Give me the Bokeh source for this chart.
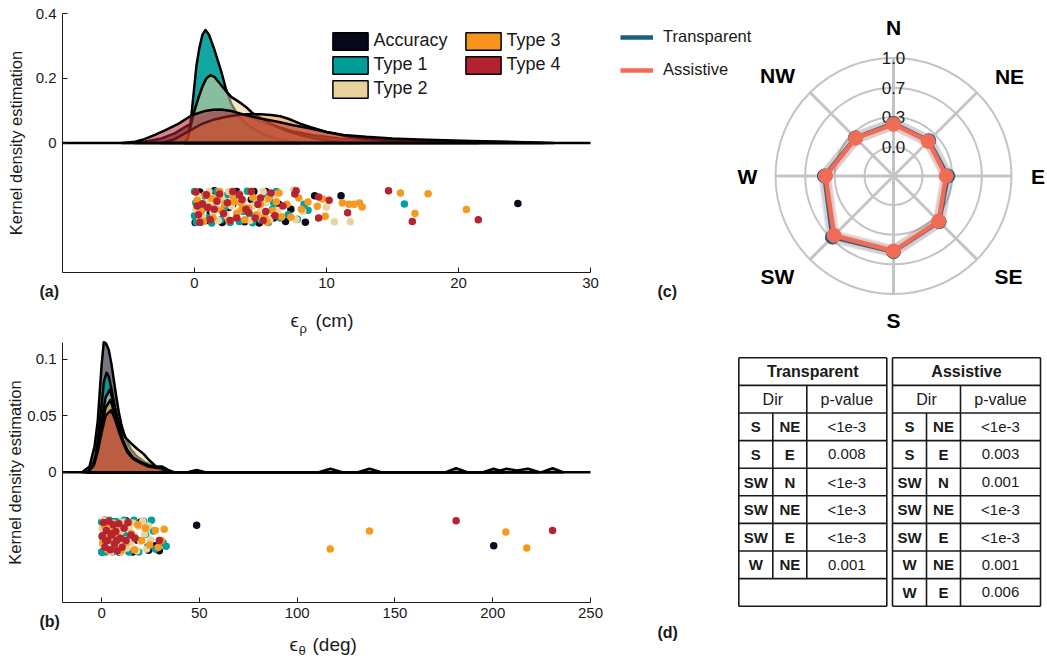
import math
from bokeh.plotting import figure
from bokeh.layouts import row, column
from bokeh.models import Range1d, Label, Legend, LegendItem, FixedTicker
from bokeh.embed import file_html
from bokeh.resources import INLINE
from bokeh.core.properties import value

FONT = "Liberation Sans"
TXT = "#1a1a1a"
NAN = float("nan")

# ------------------------------------------------------------------ data
groups = ["Accuracy", "Type 1", "Type 2", "Type 3", "Type 4"]
colors = ["#07071a", "#009e99", "#e8d19d", "#f7941e", "#b3222f"]
point_colors = ["#0c0c1c", "#00a19a", "#e9d3a1", "#f6991f", "#b52430"]
fill_alphas = [0.55, 0.92, 0.55, 0.55, 0.55]

# panel (a): position error (cm)
a_xlim = (-10, 30)
a_ylim = (-0.4, 0.4)
a_xticks = [0, 10, 20, 30]
a_xlabels = ["0", "10", "20", "30"]
a_yticks = [0, 0.2, 0.4]
a_ylabels = ["0", "0.2", "0.4"]

kde_a_x_acc = [-4.5, -3.5, -2.5, -1.5, -0.7, 0, 0.8, 1.6, 2.3, 3.0, 3.8, 4.6, 5.5, 6.5, 7.5, 9, 11, 13, 16, 20, 24, 26.5]
kde_a_y_acc = [0, 0.006, 0.014, 0.03, 0.05, 0.066, 0.082, 0.092, 0.097, 0.094, 0.085, 0.073, 0.06, 0.047, 0.036, 0.024, 0.014, 0.009, 0.006, 0.004, 0.002, 0]
kde_a_x_t1 = [-0.7, -0.45, -0.25, -0.05, 0.15, 0.35, 0.6, 0.83, 1.1, 1.5, 2.0, 2.4, 2.8, 3.3, 3.9, 4.6, 5.5, 6.5, 8.0]
kde_a_y_t1 = [0, 0.02, 0.08, 0.16, 0.24, 0.29, 0.335, 0.35, 0.335, 0.29, 0.225, 0.165, 0.12, 0.085, 0.06, 0.04, 0.022, 0.01, 0]
kde_a_x_t2 = [-0.8, -0.5, -0.25, 0, 0.3, 0.6, 0.9, 1.2, 1.5, 1.9, 2.4, 2.8, 3.2, 3.55, 4.0, 4.3, 5.0, 6.0, 7.0, 8.0, 9.0, 10.5, 12.5]
kde_a_y_t2 = [0, 0.015, 0.06, 0.1, 0.14, 0.175, 0.2, 0.21, 0.205, 0.185, 0.16, 0.142, 0.132, 0.122, 0.108, 0.096, 0.077, 0.055, 0.038, 0.025, 0.015, 0.006, 0]
kde_a_x_t3 = [-2.5, -1.5, -0.5, 0.5, 1.5, 2.5, 3.3, 4.0, 5.0, 5.8, 6.5, 7.1, 8.0, 8.8, 10, 11.5, 13, 15, 17, 19, 21.5]
kde_a_y_t3 = [0, 0.012, 0.035, 0.058, 0.073, 0.082, 0.087, 0.089, 0.089, 0.087, 0.083, 0.075, 0.06, 0.049, 0.034, 0.021, 0.013, 0.008, 0.006, 0.003, 0]
kde_a_x_t4 = [-5.5, -4.5, -3.8, -3, -2.2, -1.2, -0.2, 0.7, 1.4, 2.0, 2.8, 3.8, 5.0, 6.3, 7.5, 8.8, 10, 11.3, 13, 15, 17, 19, 21, 23, 25, 27.2]
kde_a_y_t4 = [0, 0.004, 0.012, 0.025, 0.04, 0.06, 0.086, 0.098, 0.103, 0.104, 0.099, 0.087, 0.076, 0.066, 0.055, 0.045, 0.034, 0.025, 0.019, 0.014, 0.011, 0.0085, 0.0065, 0.0045, 0.0025, 0]

pts_a_x_acc = [0.05, 0.4, 0.9, 1.5, 2.1, 2.6, 3.2, 3.8, 4.3, 4.9, 5.4, 6.0, 6.4, 0.2, 1.2, 2.9, 4.5, 5.8, 6.9, 8.4, 9.1, 11.1, 24.5, 7.3]
pts_a_y_acc = [-0.246, -0.152, -0.240, -0.148, -0.246, -0.200, -0.150, -0.244, -0.175, -0.248, -0.150, -0.232, -0.190, -0.198, -0.215, -0.190, -0.150, -0.160, -0.243, -0.245, -0.163, -0.163, -0.187, -0.205]
pts_a_x_t1 = [0.0, 0.1, 0.0, 0.15, 0.5, 0.8, 1.0, 1.3, 1.7, 2.0, 2.3, 2.7, 3.0, 3.4, 3.7, 4.0, 4.4, 4.7, 5.0, 5.3, 5.6, 5.9, 6.2, 6.5, 0.6, 2.5, 4.2, 6.0, 7.1, 7.8, 8.3, 8.6, 15.9]
pts_a_y_t1 = [-0.150, -0.185, -0.225, -0.245, -0.245, -0.165, -0.232, -0.248, -0.150, -0.238, -0.198, -0.246, -0.168, -0.243, -0.212, -0.149, -0.247, -0.190, -0.238, -0.158, -0.246, -0.205, -0.150, -0.232, -0.205, -0.160, -0.222, -0.185, -0.222, -0.236, -0.190, -0.208, -0.189]
pts_a_x_t2 = [0.1, 0.3, 0.6, 0.9, 1.1, 1.4, 1.8, 2.1, 2.4, 2.8, 3.1, 3.5, 3.9, 4.2, 4.6, 5.0, 5.4, 5.7, 6.1, 0.4, 1.6, 2.6, 3.3, 4.4, 5.2, 6.3, 1.0, 2.0, 3.7, 4.8, 7.5, 7.7, 8.2, 10.0, 10.6, 11.8]
pts_a_y_t2 = [-0.205, -0.165, -0.228, -0.185, -0.150, -0.215, -0.240, -0.175, -0.222, -0.195, -0.232, -0.158, -0.200, -0.240, -0.172, -0.210, -0.185, -0.238, -0.160, -0.240, -0.190, -0.150, -0.212, -0.195, -0.150, -0.208, -0.200, -0.162, -0.180, -0.230, -0.145, -0.238, -0.212, -0.198, -0.244, -0.244]
pts_a_x_t3 = [0.2, 0.5, 0.8, 1.1, 1.4, 1.7, 2.0, 2.3, 2.6, 2.9, 3.2, 3.5, 3.8, 4.1, 4.4, 4.7, 5.0, 5.3, 5.6, 5.9, 6.2, 6.6, 0.7, 1.9, 3.0, 4.3, 5.5, 1.3, 3.6, 6.4,
              7.0, 7.3, 7.9, 8.1, 8.6, 9.3, 9.7, 9.9, 11.2, 11.7, 12.1, 12.5, 12.7, 15.6, 17.7, 16.7, 20.6]
pts_a_y_t3 = [-0.178, -0.212, -0.160, -0.198, -0.232, -0.172, -0.208, -0.188, -0.240, -0.165, -0.218, -0.185, -0.238, -0.202, -0.168, -0.222, -0.190, -0.230, -0.172, -0.210, -0.182, -0.228, -0.242, -0.150, -0.182, -0.150, -0.245, -0.172, -0.205, -0.155,
              -0.190, -0.230, -0.170, -0.205, -0.183, -0.196, -0.173, -0.227, -0.186, -0.190, -0.190, -0.186, -0.198, -0.155, -0.157, -0.218, -0.206]
pts_a_x_t4 = [0.1, 0.3, 0.6, 0.9, 1.2, 1.5, 1.9, 2.2, 2.5, 2.9, 3.2, 3.6, 3.9, 4.3, 4.6, 5.0, 5.4, 5.8, 0.4, 1.0, 2.7, 3.4, 4.8, 0.2, 1.7, 4.1, 5.2, 6.1,
              6.7, 7.6, 7.7, 9.4, 10.2, 9.4, 11.6, 14.7, 16.5, 21.5]
pts_a_y_t4 = [-0.152, -0.222, -0.188, -0.160, -0.238, -0.205, -0.158, -0.218, -0.185, -0.150, -0.232, -0.175, -0.205, -0.150, -0.232, -0.170, -0.212, -0.155, -0.245, -0.200, -0.240, -0.160, -0.190, -0.195, -0.180, -0.215, -0.240, -0.225,
              -0.195, -0.158, -0.148, -0.167, -0.177, -0.232, -0.216, -0.148, -0.243, -0.238]

# panel (b): orientation error (deg)
b_xlim = (-20, 250)
b_ylim = (-0.115, 0.115)
b_xticks = [0, 50, 100, 150, 200, 250]
b_xlabels = ["0", "50", "100", "150", "200", "250"]
b_yticks = [0, 0.05, 0.1]
b_ylabels = ["0", "0.05", "0.1"]

kde_b_x_acc = [-10, -6.2, -3.6, -2, -1.1, 0, 1.1, 2.2, 3.7, 5, 6.2, 7.5, 8.8, 10, 11.3, 13, 15, 18, 22, 26, 30, 35, 44, 48.6, 53, 195, 200.5, 206]
kde_b_y_acc = [0, 0.005, 0.023, 0.045, 0.067, 0.095, 0.115, 0.114, 0.108, 0.096, 0.082, 0.067, 0.053, 0.043, 0.035, 0.027, 0.02, 0.014, 0.009, 0.006, 0.003, 0, 0, 0.002, 0, 0, 0.003, 0]
kde_b_x_t1 = [-8, -5, -3, -1.5, 0, 1.2, 2.5, 3.6, 5, 6.5, 8, 9.5, 11, 13, 15, 18, 21, 24, 27, 30, 33, 36]
kde_b_y_t1 = [0, 0.004, 0.015, 0.035, 0.06, 0.08, 0.088, 0.085, 0.074, 0.06, 0.047, 0.036, 0.028, 0.02, 0.015, 0.01, 0.007, 0.005, 0.004, 0.003, 0.001, 0]
kde_b_x_t2 = [-7, -4, -2, 0, 2, 4.2, 6, 8, 10, 12, 14.8, 18, 21.6, 24.1, 26, 28.4, 31, 33]
kde_b_y_t2 = [0, 0.006, 0.02, 0.045, 0.066, 0.073, 0.062, 0.048, 0.038, 0.031, 0.026, 0.021, 0.016, 0.011, 0.008, 0.004, 0.001, 0]
kde_b_x_t3 = [-7, -4, -2, 0, 2, 4.5, 7, 9, 11, 13, 16, 20, 24, 28, 31, 34, 37, 111, 117, 123, 131, 137, 143, 201, 207, 212.5, 218, 224]
kde_b_y_t3 = [0, 0.007, 0.02, 0.04, 0.057, 0.064, 0.05, 0.038, 0.028, 0.02, 0.013, 0.009, 0.006, 0.005, 0.005, 0.002, 0, 0, 0.003, 0, 0, 0.003, 0, 0, 0.003, 0.0015, 0.003, 0]
kde_b_x_t4 = [-7, -4, -2, 0, 2, 4.9, 7, 9, 11, 13, 16, 20, 24, 28, 30, 33, 36, 176, 181.3, 187, 225, 230.6, 236]
kde_b_y_t4 = [0, 0.006, 0.018, 0.035, 0.05, 0.055, 0.046, 0.035, 0.026, 0.018, 0.012, 0.008, 0.005, 0.004, 0.004, 0.001, 0, 0, 0.0035, 0, 0, 0.0035, 0]

pts_b_x_acc = [0.2, 1.5, 3.5, 6.0, 9.0, 12.5, 16.0, 20.0, 24.0, 27.0, 29.5, 0.8, 10.5, 18.0, 48.6, 200.5]
pts_b_y_acc = [-0.0705, -0.0425, -0.070, -0.044, -0.0705, -0.043, -0.0705, -0.044, -0.069, -0.065, -0.0695, -0.056, -0.057, -0.060, -0.047, -0.065]
pts_b_x_t1 = [0.0, 0.3, 0.1, 2.0, 4.0, 5.5, 7.5, 9.5, 11.5, 14.0, 16.5, 19.0, 21.5, 23.5, 25.5, 26.5, 27.5, 31.5, 33.0, 13.0, 6.5, 22.5]
pts_b_y_t1 = [-0.044, -0.057, -0.0705, -0.0705, -0.0425, -0.0705, -0.0435, -0.0705, -0.0425, -0.0705, -0.0425, -0.0705, -0.0435, -0.066, -0.0425, -0.052, -0.068, -0.0625, -0.0655, -0.056, -0.057, -0.055]
pts_b_x_t2 = [0.2, 0.5, 1.0, 1.8, 2.5, 3.2, 4.0, 4.8, 5.5, 6.3, 7.0, 7.8, 8.6, 9.4, 10.2, 11.0, 12.0, 13.0, 14.0, 15.0,
              16.0, 17.0, 18.0, 19.0, 20.0, 21.0, 22.0, 23.0, 24.0, 25.0]
pts_b_y_t2 = [-0.050, -0.064, -0.0425, -0.058, -0.067, -0.049, -0.061, -0.0705, -0.045, -0.055, -0.068, -0.0475, -0.062, -0.054, -0.0705, -0.044, -0.060, -0.067, -0.0505, -0.0625,
              -0.045, -0.0565, -0.0695, -0.048, -0.061, -0.0435, -0.0545, -0.068, -0.0475, -0.060]
pts_b_x_t3 = [0.6, 1.4, 2.2, 3.0, 3.8, 4.6, 5.6, 6.6, 7.6, 8.6, 9.8, 11.0, 12.4, 13.8, 15.2, 16.8, 18.5, 20.5, 22.5, 24.5, 27.5, 29.0, 30.5, 32.0,
              116.9, 137.0, 206.7, 217.4]
pts_b_y_t3 = [-0.0625, -0.0475, -0.0555, -0.0685, -0.0445, -0.0595, -0.0505, -0.0665, -0.0455, -0.0575, -0.0695, -0.0485, -0.0625, -0.0445, -0.0545, -0.0685, -0.0465, -0.0605, -0.0495, -0.0645, -0.0515, -0.0665, -0.0605, -0.0505,
              -0.068, -0.052, -0.053, -0.067]
pts_b_x_t4 = [0.3, 1.0, 1.7, 2.4, 3.1, 3.8, 4.5, 5.2, 5.9, 6.6, 7.3, 8.0, 8.8, 9.6, 10.5, 11.5, 12.5, 13.5, 15.0, 17.0, 2.0, 4.8, 7.8, 29.5,
              181.3, 230.6]
pts_b_y_t4 = [-0.0565, -0.0445, -0.0665, -0.0515, -0.0605, -0.0435, -0.0685, -0.0555, -0.0465, -0.0635, -0.0525, -0.0695, -0.0455, -0.0585, -0.0665, -0.0495, -0.0605, -0.0445, -0.0555, -0.0585, -0.0605, -0.0545, -0.0605, -0.0605,
              -0.043, -0.0515]

# panel (c): radar
directions = ["N", "NE", "E", "SE", "S", "SW", "W", "NW"]
ring_ticks = [0.0, 1 / 3, 2 / 3, 1.0]
ring_labels = ["0.0", "0.3", "0.7", "1.0"]
radar_transparent = [0.265, 0.235, 0.285, 0.400, 0.525, 0.645, 0.450, 0.280]
radar_assistive = [0.255, 0.225, 0.266, 0.392, 0.517, 0.619, 0.438, 0.275]
radar_series = ["Transparent", "Assistive"]
radar_colors = ["#185f80", "#f06c57"]

# panel (d): pairwise tests
tab_headers = ["Transparent", "Assistive"]
tab_sub = ["Dir", "p-value"]
t_from = ["S", "S", "SW", "SW", "SW", "W"]
t_to = ["NE", "E", "N", "NE", "E", "NE"]
t_p = ["<1e-3", "0.008", "<1e-3", "<1e-3", "<1e-3", "0.001"]
a_from = ["S", "S", "SW", "SW", "SW", "W", "W"]
a_to = ["NE", "E", "N", "NE", "E", "NE", "E"]
a_p = ["<1e-3", "0.003", "0.001", "<1e-3", "<1e-3", "0.001", "0.006"]

# ------------------------------------------------------------------ layout sizes (px)
LEFT_W, RIGHT_W = 605, 441
TOP_H, BOT_H = 338, 322
# label centre offsets (px) around the radar, N then clockwise
DIR_LABEL_OFFSETS = [(0, 149), (116, 99.5), (144.5, 0), (115, -100.5),
                     (0, -144.5), (-116, -100.5), (-146, 0), (-116, 100.5)]


def frame_map(xlim, ylim, box, W, H):
    """Extend the data ranges so that xlim/ylim land on the pixel box (L, R, T, B)."""
    L, R, T, B = box
    sx = (R - L) / (xlim[1] - xlim[0])
    sy = (B - T) / (ylim[1] - ylim[0])
    xr = Range1d(xlim[0] - L / sx, xlim[1] + (W - R) / sx)
    yr = Range1d(ylim[0] - (H - B) / sy, ylim[1] + T / sy)
    fx = lambda px: xlim[0] + (px - L) / sx
    fy = lambda py: ylim[1] - (py - T) / sy
    return xr, yr, fx, fy


def style_axis(ax, ticks, labels, loc, bounds):
    ax.fixed_location = loc
    ax.bounds = bounds
    ax.ticker = FixedTicker(ticks=ticks)
    ax.major_label_overrides = {t: l for t, l in zip(ticks, labels)}
    ax.minor_tick_line_color = None
    ax.major_tick_in = 5
    ax.major_tick_out = 0
    ax.axis_line_color = TXT
    ax.major_tick_line_color = TXT
    ax.major_label_text_font = FONT
    ax.major_label_text_font_size = "15px"
    ax.major_label_text_color = TXT
    ax.major_label_standoff = 6


def label(p, x, y, text, size, bold=False, baseline="alphabetic"):
    p.add_layout(Label(x=x, y=y, text=text, text_font=FONT, text_font_size=size, text_color=TXT,
                       text_font_style="bold" if bold else "normal",
                       text_align="left", text_baseline=baseline))


def kde_panel(H, box, xlim, ylim, xt, xl, yt, yl, kx, ky, px, py, standoff):
    xr, yr, fx, fy = frame_map(xlim, ylim, box, LEFT_W, H)
    p = figure(width=LEFT_W, height=H, x_range=xr, y_range=yr, output_backend="svg",
               toolbar_location=None, min_border=0)
    p.grid.visible = False
    p.outline_line_color = None
    style_axis(p.xaxis[0], xt, xl, ylim[0], xlim)
    style_axis(p.yaxis[0], yt, yl, xlim[0], ylim)
    p.yaxis.axis_label = "Kernel density estimation"
    p.yaxis.axis_label_text_font = FONT
    p.yaxis.axis_label_text_font_size = "16.5px"
    p.yaxis.axis_label_text_font_style = "normal"
    p.yaxis.axis_label_text_color = TXT
    p.yaxis.axis_label_standoff = standoff
    for cx, cy, c, a in zip(kx, ky, colors, fill_alphas):
        p.patch(cx, cy, fill_color=c, fill_alpha=a, line_color="black", line_width=2.5, line_join="round")
    p.segment(x0=[xlim[0]], y0=[0], x1=[xlim[1]], y1=[0], line_color="black", line_width=2.5)
    for sx, sy, c in zip(px, py, point_colors):
        p.scatter(sx, sy, size=7.5, fill_color=c, line_color=None)
    return p, fx, fy


# ------------------------------------------------------------------ panel (a)
pa, fxa, fya = kde_panel(TOP_H, (62, 590, 13.3, 271.7), a_xlim, a_ylim,
                         a_xticks, a_xlabels, a_yticks, a_ylabels,
                         [kde_a_x_acc, kde_a_x_t1, kde_a_x_t2, kde_a_x_t3, kde_a_x_t4],
                         [kde_a_y_acc, kde_a_y_t1, kde_a_y_t2, kde_a_y_t3, kde_a_y_t4],
                         [pts_a_x_acc, pts_a_x_t1, pts_a_x_t2, pts_a_x_t3, pts_a_x_t4],
                         [pts_a_y_acc, pts_a_y_t1, pts_a_y_t2, pts_a_y_t3, pts_a_y_t4], 8)
dummies = [pa.patch(x=[NAN], y=[NAN], fill_color=c, fill_alpha=1, line_color="black", line_width=1.5)
           for c in colors]
leg_kw = dict(orientation="vertical", glyph_width=44, glyph_height=22, label_standoff=2, spacing=2,
              padding=0, margin=0, border_line_color=None, background_fill_alpha=0,
              label_text_font=FONT, label_text_font_size="18px", label_text_color=TXT, label_height=22)
leg1 = Legend(items=[LegendItem(label=groups[i], renderers=[dummies[i]]) for i in range(3)],
              location=(327.6, TOP_H - 99.5), **leg_kw)
leg2 = Legend(items=[LegendItem(label=groups[i], renderers=[dummies[i]]) for i in range(3, 5)],
              location=(460.6, TOP_H - 75.5), **leg_kw)
pa.add_layout(leg1)
pa.add_layout(leg2)
label(pa, fxa(39), fya(291), "(a)", "16px", bold=True, baseline="middle")
label(pa, fxa(290), fya(320), "ϵ", "19px")
label(pa, fxa(299), fya(328), "ρ", "13px")
label(pa, fxa(315), fya(320), "(cm)", "19px")

# ------------------------------------------------------------------ panel (b)
OB = TOP_H  # vertical offset of panel (b) in the page
pb, fxb, fyb = kde_panel(BOT_H, (62, 590, 341.7 - OB, 601.7 - OB), b_xlim, b_ylim,
                         b_xticks, b_xlabels, b_yticks, b_ylabels,
                         [kde_b_x_acc, kde_b_x_t1, kde_b_x_t2, kde_b_x_t3, kde_b_x_t4],
                         [kde_b_y_acc, kde_b_y_t1, kde_b_y_t2, kde_b_y_t3, kde_b_y_t4],
                         [pts_b_x_acc, pts_b_x_t1, pts_b_x_t2, pts_b_x_t3, pts_b_x_t4],
                         [pts_b_y_acc, pts_b_y_t1, pts_b_y_t2, pts_b_y_t3, pts_b_y_t4], 0)
label(pb, fxb(39), fyb(621 - OB), "(b)", "16px", bold=True, baseline="middle")
label(pb, fxb(289), fyb(644 - OB), "ϵ", "19px")
label(pb, fxb(298), fyb(650 - OB), "θ", "13px")
label(pb, fxb(312), fyb(644 - OB), "(deg)", "19px")

# ------------------------------------------------------------------ panel (c) radar
pc = figure(width=RIGHT_W, height=TOP_H, x_range=Range1d(0, RIGHT_W), y_range=Range1d(0, TOP_H),
            x_axis_location=None, y_axis_location=None, output_backend="svg",
            toolbar_location=None, min_border=0)
pc.grid.visible = False
pc.outline_line_color = None
CX, CY = 893 - LEFT_W, TOP_H - 175.5
R0, R1 = 29, 118
az = [math.radians(45 * i) for i in range(len(directions))]
ring_r = [R0 + t * (R1 - R0) for t in ring_ticks]
pc.circle(x=[CX] * len(ring_r), y=[CY] * len(ring_r), radius=ring_r,
          fill_color=None, line_color="#c4c4c4", line_width=2)
pc.segment(x0=[CX] * len(az), y0=[CY] * len(az),
           x1=[CX + R1 * math.sin(a) for a in az], y1=[CY + R1 * math.cos(a) for a in az],
           line_color="#c4c4c4", line_width=3)
pc.text(x=[CX] * len(ring_r), y=[CY + r for r in ring_r], text=ring_labels,
        text_align="center", text_baseline="middle", text_font=value(FONT),
        text_font_size="17px", text_color=TXT)
pc.text(x=[CX + dx for dx, dy in DIR_LABEL_OFFSETS], y=[CY + dy for dx, dy in DIR_LABEL_OFFSETS],
        text=directions, text_align="center", text_baseline="middle", text_font=value(FONT),
        text_font_size="21px", text_font_style="bold", text_color="black")
legend_lines = []
for vals, col in zip([radar_transparent, radar_assistive], radar_colors):
    rr = [R0 + v * (R1 - R0) for v in vals]
    xs = [CX + r * math.sin(a) for r, a in zip(rr, az)]
    ys = [CY + r * math.cos(a) for r, a in zip(rr, az)]
    pc.line(xs + xs[:1], ys + ys[:1], line_color=col, line_width=12, line_alpha=0.18, line_join="round")
    ln = pc.line(xs + xs[:1], ys + ys[:1], line_color=col, line_width=4.5, line_join="round")
    pc.scatter(xs, ys, size=14, fill_color=col, line_color=col)
    legend_lines.append(ln)
legc = Legend(items=[LegendItem(label=s, renderers=[r]) for s, r in zip(radar_series, legend_lines)],
              location=(620 - LEFT_W, TOP_H - 79.7), orientation="vertical", glyph_width=33, glyph_height=20,
              spacing=13, label_standoff=10, padding=0, margin=0, border_line_color=None,
              background_fill_alpha=0, label_text_font=FONT, label_text_font_size="16.5px",
              label_text_color=TXT, label_height=20)
pc.add_layout(legc)
label(pc, 657 - LEFT_W, TOP_H - 291, "(c)", "16px", bold=True, baseline="middle")

# ------------------------------------------------------------------ panel (d) table
pd_ = figure(width=RIGHT_W, height=BOT_H, x_range=Range1d(0, RIGHT_W), y_range=Range1d(0, BOT_H),
             x_axis_location=None, y_axis_location=None, output_backend="svg",
             toolbar_location=None, min_border=0)
pd_.grid.visible = False
pd_.outline_line_color = None
PAGE_B = TOP_H + BOT_H
col_w = [34, 34, 80]
gap = 5.7
row_h = 27.6
n_rows = 9
TX0, TY0 = 738.3 - LEFT_W, PAGE_B - 357.3
half_w = sum(col_w)
yb = [TY0 - k * row_h for k in range(n_rows + 1)]
sx0, sy0, sx1, sy1 = [], [], [], []
tx, ty, tt, tb = [], [], [], []
for h, (hdr, frm, to, pv) in enumerate([(tab_headers[0], t_from, t_to, t_p),
                                         (tab_headers[1], a_from, a_to, a_p)]):
    e0 = TX0 + h * (half_w + gap)
    e = [e0, e0 + col_w[0], e0 + col_w[0] + col_w[1], e0 + half_w]
    n = len(frm)
    for yk in yb:
        sx0.append(e[0]); sx1.append(e[3]); sy0.append(yk); sy1.append(yk)
    for xe in (e[0], e[3]):
        sx0.append(xe); sx1.append(xe); sy0.append(yb[0]); sy1.append(yb[-1])
    sx0.append(e[2]); sx1.append(e[2]); sy0.append(yb[1]); sy1.append(yb[2 + n])
    sx0.append(e[1]); sx1.append(e[1]); sy0.append(yb[2]); sy1.append(yb[2 + n])
    tx.append((e[0] + e[3]) / 2); ty.append((yb[0] + yb[1]) / 2); tt.append(hdr); tb.append("bold")
    tx.append((e[0] + e[2]) / 2); ty.append((yb[1] + yb[2]) / 2); tt.append(tab_sub[0]); tb.append("normal")
    tx.append((e[2] + e[3]) / 2); ty.append((yb[1] + yb[2]) / 2); tt.append(tab_sub[1]); tb.append("normal")
    for i in range(n):
        ym = (yb[2 + i] + yb[3 + i]) / 2
        tx.append((e[0] + e[1]) / 2); ty.append(ym); tt.append(frm[i]); tb.append("bold")
        tx.append((e[1] + e[2]) / 2); ty.append(ym); tt.append(to[i]); tb.append("bold")
        tx.append((e[2] + e[3]) / 2); ty.append(ym); tt.append(pv[i]); tb.append("normal")
pd_.segment(x0=sx0, y0=sy0, x1=sx1, y1=sy1, line_color="#1a1a1a", line_width=1.6)
sizes = ["16px" if (t in tab_headers or t in tab_sub) else "15px" for t in tt]
pd_.text(x=tx, y=ty, text=tt, text_font_style=tb, text_font_size=sizes, text_align="center",
         text_baseline="middle", text_font=value(FONT), text_color=TXT)
label(pd_, 657 - LEFT_W, PAGE_B - 632, "(d)", "16px", bold=True, baseline="middle")

layout = row(column(pa, pb), column(pc, pd_))
open("out.html", "w").write(file_html(layout, INLINE))
